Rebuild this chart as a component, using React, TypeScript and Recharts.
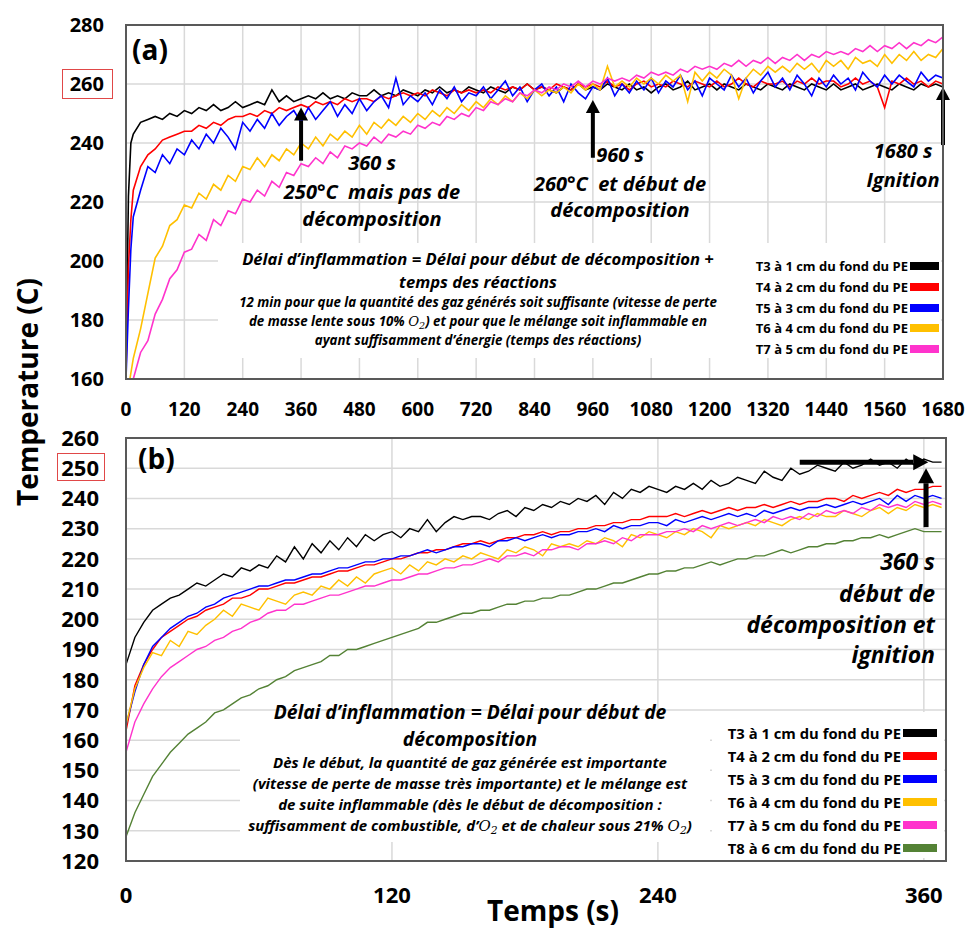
import React from "react";
import { CartesianGrid, Line, LineChart, ReferenceLine, XAxis, YAxis } from "recharts";

// Two stacked temperature-vs-time panels: (a) 10% O2, ignition at 1680 s,
// (b) 21% O2, ignition at 360 s.

const FONT = '"Open Sans", "DejaVu Sans", sans-serif';
const GRID = "#d9d9d9";
const FRAME = "#595959";

const COLORS: Record<string, string> = {
  T3: "#000000",
  T4: "#ff0000",
  T5: "#0000ff",
  T6: "#ffc000",
  T7: "#ff33cc",
  T8: "#548235",
};

const LABELS: Record<string, string> = {
  T3: "T3 à 1 cm du fond du PE",
  T4: "T4 à 2 cm du fond du PE",
  T5: "T5 à 3 cm du fond du PE",
  T6: "T6 à 4 cm du fond du PE",
  T7: "T7 à 5 cm du fond du PE",
  T8: "T8 à 6 cm du fond du PE",
};

// ---------- panel (a) ----------
const TICKS_A_X = [0, 120, 240, 360, 480, 600, 720, 840, 960, 1080, 1200, 1320, 1440, 1560, 1680];
const TICKS_A_Y = [160, 180, 200, 220, 240, 260, 280];

const TIME_A = [
  0, 5, 10,
  15, 30, 45, 60, 75, 90, 105, 120,
  135, 150, 165, 180, 195, 210, 225, 240,
  255, 270, 285, 300, 315, 330, 345, 360,
  375, 390, 405, 420, 435, 450, 465, 480,
  495, 510, 525, 540, 555, 570, 585, 600,
  615, 630, 645, 660, 675, 690, 705, 720,
  735, 750, 765, 780, 795, 810, 825, 840,
  855, 870, 885, 900, 915, 930, 945, 960,
  975, 990, 1005, 1020, 1035, 1050, 1065, 1080,
  1095, 1110, 1125, 1140, 1155, 1170, 1185, 1200,
  1215, 1230, 1245, 1260, 1275, 1290, 1305, 1320,
  1335, 1350, 1365, 1380, 1395, 1410, 1425, 1440,
  1455, 1470, 1485, 1500, 1515, 1530, 1545, 1560,
  1575, 1590, 1605, 1620, 1635, 1650, 1665, 1680,
];

const A_T3 = [
  164, 222, 240,
  243, 247, 248, 249, 248, 250, 249, 251,
  250, 252, 251, 253, 251, 252, 254, 252,
  253, 254, 253, 258, 254, 256, 254, 255,
  256, 255, 257, 255, 256, 255, 257, 256,
  256, 258, 256, 257, 256, 258, 257, 256,
  258, 257, 259, 257, 258, 257, 259, 258,
  257, 259, 258, 257, 259, 258, 260, 258,
  259, 258, 257, 259, 258, 260, 258, 259,
  258, 260, 259, 258, 260, 258, 259, 257,
  259, 260, 258, 259, 261, 258, 259, 260,
  258, 260, 259, 258, 260, 259, 258, 260,
  259, 258, 260, 259, 258, 260, 259, 258,
  260, 258, 259, 260, 258, 259, 260, 259,
  258, 260, 259, 258, 260, 259, 260, 259,
];

const A_T4 = [
  162, 198, 214,
  224, 232, 236, 238, 241, 242, 243, 244,
  244, 246, 245, 247, 246, 248, 249, 249,
  250, 249, 251, 250, 252, 251, 252, 253,
  252, 254, 253, 254, 253, 255, 254, 255,
  255, 254, 256, 255, 256, 257, 256, 257,
  256, 258, 257, 256, 258, 257, 258, 257,
  258, 257, 259, 258, 259, 258, 260, 258,
  259, 258, 260, 259, 258, 260, 259, 260,
  259, 261, 259, 260, 258, 260, 261, 259,
  260, 259, 261, 260, 259, 261, 260, 259,
  261, 259, 260, 262, 260, 259, 261, 260,
  260, 261, 259, 261, 260, 262, 260, 261,
  261, 259, 260, 262, 260, 261, 259, 252,
  261, 260, 262, 260, 261, 259, 261, 260,
];

const A_T5 = [
  160, 184, 204,
  215, 224, 232, 230, 236, 233, 238, 236,
  241, 238, 243, 240, 245, 242, 238, 247,
  244, 248, 245, 250, 246, 249, 251, 247,
  252, 248, 251, 254, 249, 253, 250, 255,
  251, 254, 256, 252, 262, 253, 256, 254,
  257, 253, 258, 255, 259, 254, 257, 256,
  259, 255, 258, 261, 256, 259, 254, 258,
  260, 256, 259, 254, 260, 257, 255, 259,
  258, 262, 256, 260, 257, 261, 258, 262,
  257, 261, 259, 263, 258, 261, 256, 262,
  260, 258, 263, 259, 262, 257, 261, 264,
  259, 262, 258, 263, 260, 256, 262, 259,
  263, 260, 262, 258, 264, 261, 259, 263,
  260, 263, 261, 259, 264, 261, 263, 262,
];

const A_T6 = [
  150, 157, 162,
  167, 177, 189, 201, 205, 212, 214, 219,
  218, 223, 221, 226, 224, 229, 227, 232,
  231, 235, 232, 236, 234, 238, 236, 240,
  238, 242, 239, 243, 241, 244, 242, 246,
  243, 247, 245, 248, 246, 249, 247, 250,
  248, 251, 249, 252, 250, 253, 251, 254,
  252, 255, 253, 256, 254, 257, 255, 258,
  256, 258, 257, 259, 257, 260, 258, 260,
  258, 266, 259, 261, 259, 262, 260, 262,
  260, 263, 261, 263, 254, 264, 261, 264,
  262, 265, 263, 255, 262, 265, 263, 266,
  264, 266, 264, 267, 265, 267, 264, 268,
  266, 268, 265, 269, 267, 268, 266, 270,
  267, 270, 268, 271, 268, 270, 269, 272,
];

const A_T7 = [
  140, 148, 155,
  160, 169, 173, 182, 187, 194, 197, 203,
  204, 209, 207, 214, 212, 217, 216, 221,
  220, 224, 222, 227, 225, 230, 229, 233,
  232, 235, 233, 237, 235, 239, 238, 240,
  239, 242, 240, 243, 242, 244, 243, 246,
  245, 247, 246, 249, 248, 250, 249, 252,
  251, 254, 253, 255, 254, 257, 256, 258,
  257, 259, 258, 260, 259, 261, 259, 261,
  260, 262, 261, 262, 261, 263, 262, 264,
  263, 264, 263, 265, 264, 266, 265, 266,
  265, 267, 266, 268, 266, 268, 267, 269,
  267, 269, 268, 270, 268, 270, 269, 271,
  270, 271, 270, 272, 271, 273, 271, 273,
  272, 274, 272, 274, 273, 275, 274, 276,
];

// ---------- panel (b) ----------
const TICKS_B_X = [0, 120, 240, 360];
const TICKS_B_Y = [120, 130, 140, 150, 160, 170, 180, 190, 200, 210, 220, 230, 240, 250, 260];

const TIME_B = [
  0, 4, 8, 12, 16, 20, 24, 28, 32, 36,
  40, 44, 48, 52, 56, 60, 64, 68, 72, 76,
  80, 84, 88, 92, 96, 100, 104, 108, 112, 116,
  120, 124, 128, 132, 136, 140, 144, 148, 152, 156,
  160, 164, 168, 172, 176, 180, 184, 188, 192, 196,
  200, 204, 208, 212, 216, 220, 224, 228, 232, 236,
  240, 244, 248, 252, 256, 260, 264, 268, 272, 276,
  280, 284, 288, 292, 296, 300, 304, 308, 312, 316,
  320, 324, 328, 332, 336, 340, 344, 348, 352, 356,
  360, 364, 368,
];

const B_T3 = [
  185, 194, 199, 203, 205, 207, 208, 210, 212, 211,
  213, 215, 214, 217, 216, 218, 217, 221, 219, 224,
  220, 225, 222, 226, 223, 227, 224, 228, 226, 228,
  229, 227, 230, 229, 233, 229, 232, 234, 233, 234,
  234, 233, 235, 236, 234, 237, 236, 238, 237, 239,
  238, 240, 239, 241, 238, 242, 240, 243, 242, 244,
  243, 242, 244, 243, 245, 243, 246, 244, 245, 247,
  246, 245, 249, 247, 246, 250, 248, 249, 251, 250,
  249, 252, 250, 251, 253, 251, 252, 250, 253, 251,
  253, 252, 252,
];

const B_T4 = [
  163, 178, 185, 190, 194, 196, 198, 200, 201, 203,
  204, 205, 207, 207, 208, 210, 210, 211, 212, 212,
  213, 214, 214, 215, 216, 216, 217, 218, 218, 219,
  220, 220, 221, 222, 222, 223, 223, 224, 225, 225,
  226, 225, 226, 227, 227, 228, 228, 229, 228, 229,
  229, 230, 230, 231, 231, 232, 232, 233, 233, 234,
  234, 234, 235, 234, 235, 236, 235, 236, 237, 236,
  237, 237, 238, 237, 238, 239, 238, 239, 239, 240,
  240, 239, 241, 240, 241, 242, 241, 243, 242, 243,
  243, 244, 244,
];

const B_T5 = [
  165, 176, 185, 191, 194, 197, 199, 201, 202, 204,
  205, 207, 208, 209, 210, 211, 211, 212, 213, 213,
  214, 215, 215, 216, 217, 217, 218, 219, 219, 220,
  220, 221, 221, 222, 223, 222, 223, 224, 224, 225,
  225, 224, 226, 226, 227, 226, 227, 228, 227, 228,
  228, 229, 229, 230, 229, 231, 230, 231, 231, 232,
  232, 231, 233, 232, 233, 234, 233, 234, 235, 234,
  235, 234, 236, 235, 236, 237, 236, 237, 237, 238,
  237, 238, 239, 238, 239, 240, 238, 241, 239, 241,
  240, 241, 240,
];

const B_T6 = [
  165, 177, 184, 189, 188, 193, 191, 196, 195, 198,
  200, 203, 201, 205, 204, 203, 207, 206, 205, 208,
  209, 208, 211, 210, 213, 211, 214, 212, 215, 216,
  217, 215, 218, 216, 219, 218, 220, 219, 221, 220,
  222, 221, 220, 223, 222, 224, 223, 221, 225, 224,
  225, 224, 226, 225, 227, 226, 224, 228, 227, 229,
  228, 227, 229, 228, 230, 229, 227, 231, 230, 231,
  232, 231, 233, 232, 231, 233, 234, 233, 235, 234,
  234, 236, 235, 234, 236, 237, 235, 237, 236, 238,
  237, 238, 237,
];

const B_T7 = [
  156, 166, 172, 177, 181, 184, 186, 188, 190, 191,
  193, 194, 196, 197, 199, 200, 202, 203, 203, 205,
  205, 206, 207, 208, 208, 209, 210, 211, 211, 212,
  213, 213, 214, 215, 215, 216, 217, 217, 218, 218,
  219, 220, 219, 221, 221, 222, 221, 223, 223, 224,
  224, 223, 225, 225, 226, 225, 227, 226, 228, 228,
  228, 229, 229, 230, 229, 231, 230, 231, 232, 231,
  232, 233, 232, 234, 233, 234, 233, 235, 234, 236,
  235, 236, 235, 237, 236, 238, 237, 238, 237, 239,
  238, 239, 238,
];

const B_T8 = [
  128, 136, 142, 148, 152, 156, 159, 162, 164, 166,
  169, 170, 172, 174, 175, 177, 178, 180, 181, 183,
  184, 185, 186, 188, 188, 190, 190, 191, 192, 193,
  194, 195, 196, 197, 199, 199, 200, 201, 202, 202,
  203, 203, 204, 205, 205, 206, 206, 207, 207, 208,
  208, 209, 210, 210, 211, 212, 212, 213, 214, 215,
  215, 216, 216, 217, 217, 218, 219, 218, 219, 220,
  220, 221, 221, 222, 223, 222, 223, 224, 224, 225,
  225, 226, 226, 227, 227, 228, 227, 228, 229, 230,
  229, 229, 229,
];

const SERIES_A = [
  { key: "T3", values: A_T3 },
  { key: "T4", values: A_T4 },
  { key: "T5", values: A_T5 },
  { key: "T6", values: A_T6 },
  { key: "T7", values: A_T7 },
];

const SERIES_B = [
  { key: "T3", values: B_T3 },
  { key: "T4", values: B_T4 },
  { key: "T5", values: B_T5 },
  { key: "T6", values: B_T6 },
  { key: "T7", values: B_T7 },
  { key: "T8", values: B_T8 },
];

function buildRows(time: number[], series: { key: string; values: number[] }[]) {
  return time.map((t, i) => {
    const row: Record<string, number> = { t };
    series.forEach((s) => (row[s.key] = s.values[i]));
    return row;
  });
}

const rowsA = buildRows(TIME_A, SERIES_A);
const rowsB = buildRows(TIME_B, SERIES_B);

// thick black annotation arrow, drawn between the two ends of a ReferenceLine segment
function makeArrow(shaft: number, head: number, half: number) {
  return (p: any) => {
    const { x1, y1, x2, y2 } = p;
    const dx = x2 - x1;
    const dy = y2 - y1;
    const len = Math.hypot(dx, dy) || 1;
    const ux = dx / len;
    const uy = dy / len;
    const bx = x2 - ux * head;
    const by = y2 - uy * head;
    return (
      <g>
        <line x1={x1} y1={y1} x2={bx} y2={by} stroke="#000" strokeWidth={shaft} />
        <polygon
          points={`${x2},${y2} ${bx - uy * half},${by + ux * half} ${bx + uy * half},${by - ux * half}`}
          fill="#000"
        />
      </g>
    );
  };
}

const arrowA = makeArrow(4, 13, 7);
const arrowB = makeArrow(5, 15, 8);

const tickStyle = (size: number) => ({ fontSize: size, fontWeight: 700, fill: "#000", fontFamily: FONT });

function Note({
  x,
  y,
  size,
  align = "center",
  children,
}: {
  x: number;
  y: number;
  size: number;
  align?: "center" | "right";
  children: React.ReactNode;
}) {
  const style: React.CSSProperties = {
    position: "absolute",
    top: y - size * 0.68,
    whiteSpace: "nowrap",
    fontFamily: FONT,
    fontWeight: 700,
    fontStyle: "italic",
    fontSize: size,
    lineHeight: `${size * 1.2}px`,
    color: "#000",
  };
  if (align === "center") {
    style.left = x;
    style.transform = "translateX(-50%)";
  } else {
    style.right = 966 - x;
  }
  return <div style={style}>{children}</div>;
}

function O2() {
  return (
    <span style={{ fontFamily: '"DejaVu Serif", serif', fontWeight: 400, fontStyle: "italic" }}>
      O<span style={{ fontSize: "0.72em", position: "relative", top: "0.3em" }}>2</span>
    </span>
  );
}

function Legend({
  keys,
  right,
  top,
  step,
  size,
  swW,
}: {
  keys: string[];
  right: number;
  top: number;
  step: number;
  size: number;
  swW: number;
}) {
  return (
    <>
      {keys.map((k, i) => (
        <div
          key={k}
          style={{
            position: "absolute",
            right: 966 - right,
            top: top + i * step - 10,
            height: 20,
            display: "flex",
            alignItems: "center",
            gap: 2,
            fontFamily: FONT,
            fontWeight: 700,
            fontSize: size,
            color: "#000",
            whiteSpace: "nowrap",
          }}
        >
          <span>{LABELS[k]}</span>
          <span style={{ display: "inline-block", width: swW, height: 8, background: COLORS[k] }} />
        </div>
      ))}
    </>
  );
}

function Box({ l, t, r, b, color = "#fff", border }: { l: number; t: number; r: number; b: number; color?: string; border?: string }) {
  return (
    <div
      style={{
        position: "absolute",
        left: l,
        top: t,
        width: r - l,
        height: b - t,
        background: color,
        border,
        boxSizing: "border-box",
        pointerEvents: "none",
      }}
    />
  );
}

export default function App() {
  return (
    <div style={{ position: "absolute", left: 0, top: 0, width: 966, height: 933, background: "#fff", overflow: "hidden" }}>
      {/* panel (a) */}
      <div style={{ position: "absolute", left: 0, top: 0 }}>
        <LineChart width={966} height={430} data={rowsA} margin={{ top: 25, right: 23, bottom: 0, left: 70 }}>
          <CartesianGrid stroke={GRID} strokeWidth={1.5} />
          <XAxis
            type="number"
            dataKey="t"
            domain={[0, 1680]}
            ticks={TICKS_A_X}
            interval={0}
            height={51}
            tickSize={0}
            tickMargin={24}
            axisLine={false}
            tickLine={false}
            tick={tickStyle(19)}
          />
          <YAxis
            type="number"
            domain={[160, 280]}
            ticks={TICKS_A_Y}
            interval={0}
            allowDataOverflow
            width={56}
            tickSize={0}
            tickMargin={22}
            axisLine={false}
            tickLine={false}
            tick={tickStyle(20)}
          />
          {SERIES_A.map((s) => (
            <Line
              key={s.key}
              type="linear"
              dataKey={s.key}
              stroke={COLORS[s.key]}
              strokeWidth={1.6}
              dot={false}
              isAnimationActive={false}
            />
          ))}
          <ReferenceLine segment={[{ x: 360, y: 234 }, { x: 360, y: 252 }]} shape={arrowA} ifOverflow="visible" />
          <ReferenceLine segment={[{ x: 960, y: 235 }, { x: 960, y: 254.6 }]} shape={arrowA} ifOverflow="visible" />
          <ReferenceLine segment={[{ x: 1680, y: 239.3 }, { x: 1680, y: 259 }]} shape={arrowA} ifOverflow="visible" />
        </LineChart>
      </div>

      {/* panel (b) */}
      <div style={{ position: "absolute", left: 0, top: 420 }}>
        <LineChart width={966} height={513} data={rowsB} margin={{ top: 18, right: 20, bottom: 0, left: 70 }}>
          <CartesianGrid stroke={GRID} strokeWidth={1.5} />
          <XAxis
            type="number"
            dataKey="t"
            domain={[0, 370]}
            ticks={TICKS_B_X}
            interval={0}
            height={72}
            tickSize={0}
            tickMargin={26}
            axisLine={false}
            tickLine={false}
            tick={tickStyle(22)}
          />
          <YAxis
            type="number"
            domain={[120, 260]}
            ticks={TICKS_B_Y}
            interval={0}
            allowDataOverflow
            width={56}
            tickSize={0}
            tickMargin={27}
            axisLine={false}
            tickLine={false}
            tick={tickStyle(22)}
          />
          {SERIES_B.map((s) => (
            <Line
              key={s.key}
              type="linear"
              dataKey={s.key}
              stroke={COLORS[s.key]}
              strokeWidth={1.4}
              dot={false}
              isAnimationActive={false}
            />
          ))}
          <ReferenceLine segment={[{ x: 304, y: 252 }, { x: 362, y: 252 }]} shape={arrowB} ifOverflow="visible" />
          <ReferenceLine segment={[{ x: 361, y: 230.5 }, { x: 361, y: 250 }]} shape={arrowB} ifOverflow="visible" />
        </LineChart>
      </div>

      {/* white panels behind the text blocks and legends */}
      <Box l={218} t={243} r={941} b={358} />
      <Box l={240} t={712} r={710} b={842} />
      <Box l={712} t={712} r={944} b={858} />

      {/* plot frames */}
      <Box l={125} t={24} r={944} b={380} color="transparent" border={`2px solid ${FRAME}`} />
      <Box l={125} t={437} r={947} b={862} color="transparent" border={`2px solid ${FRAME}`} />

      {/* highlighted tick labels */}
      <Box l={62} t={69} r={113} b={99} color="transparent" border="1.5px solid #e04848" />
      <Box l={57} t={453} r={105} b={481} color="transparent" border="1.5px solid #e04848" />

      {/* panel tags */}
      <div style={{ position: "absolute", left: 132, top: 30, fontFamily: FONT, fontWeight: 700, fontSize: 28, lineHeight: "38px" }}>(a)</div>
      <div style={{ position: "absolute", left: 138, top: 439, fontFamily: FONT, fontWeight: 700, fontSize: 28, lineHeight: "38px" }}>(b)</div>

      {/* axis titles */}
      <div
        style={{
          position: "absolute",
          left: 27 - 160,
          top: 392 - 20,
          width: 320,
          height: 40,
          lineHeight: "40px",
          textAlign: "center",
          transform: "rotate(-90deg)",
          fontFamily: FONT,
          fontWeight: 700,
          fontSize: 28,
          whiteSpace: "nowrap",
        }}
      >
        Temperature (C)
      </div>
      <div
        style={{
          position: "absolute",
          left: 553,
          top: 912 - 19,
          transform: "translateX(-50%)",
          fontFamily: FONT,
          fontWeight: 700,
          fontSize: 28,
          lineHeight: "34px",
          whiteSpace: "nowrap",
        }}
      >
        Temps (s)
      </div>

      {/* panel (a) annotations */}
      <Note x={372} y={165} size={20}>360 s</Note>
      <Note x={372} y={194} size={20}>250°C&nbsp; mais pas de</Note>
      <Note x={372} y={221} size={20}>décomposition</Note>
      <Note x={620} y={157} size={20}>960 s</Note>
      <Note x={620} y={186} size={20}>260°C&nbsp; et début de</Note>
      <Note x={620} y={212} size={20}>décomposition</Note>
      <Note x={903} y={153} size={20}>1680 s</Note>
      <Note x={903} y={182} size={20}>Ignition</Note>

      <Note x={478} y={260} size={16.6}>Délai d’inflammation = Délai pour début de décomposition +</Note>
      <Note x={478} y={283} size={16.6}>temps des réactions</Note>
      <Note x={478} y={304} size={13.3}>12 min pour que la quantité des gaz générés soit suffisante (vitesse de perte</Note>
      <Note x={478} y={323} size={13.3}>
        de masse lente sous 10% <O2 />) et pour que le mélange soit inflammable en
      </Note>
      <Note x={478} y={342} size={13.3}>ayant suffisamment d’énergie (temps des réactions)</Note>

      <Legend keys={["T3", "T4", "T5", "T6", "T7"]} right={939} top={266} step={20.8} size={13} swW={29} />

      {/* panel (b) annotations */}
      <Note x={935} y={564} size={23} align="right">360 s</Note>
      <Note x={935} y={596} size={23} align="right">début de</Note>
      <Note x={935} y={627} size={23} align="right">décomposition et</Note>
      <Note x={935} y={657} size={23} align="right">ignition</Note>

      <Note x={470} y={713} size={19.3}>Délai d’inflammation = Délai pour début de</Note>
      <Note x={470} y={740} size={19.3}>décomposition</Note>
      <Note x={470} y={763} size={15}>Dès le début, la quantité de gaz générée est importante</Note>
      <Note x={470} y={784} size={15}>(vitesse de perte de masse très importante) et le mélange est</Note>
      <Note x={470} y={805} size={15}>de suite inflammable (dès le début de décomposition :</Note>
      <Note x={470} y={826} size={15}>
        suffisamment de combustible, d’<O2 /> et de chaleur sous 21% <O2 />)
      </Note>

      <Legend keys={["T3", "T4", "T5", "T6", "T7", "T8"]} right={937} top={733} step={23} size={14.8} swW={34} />
    </div>
  );
}
